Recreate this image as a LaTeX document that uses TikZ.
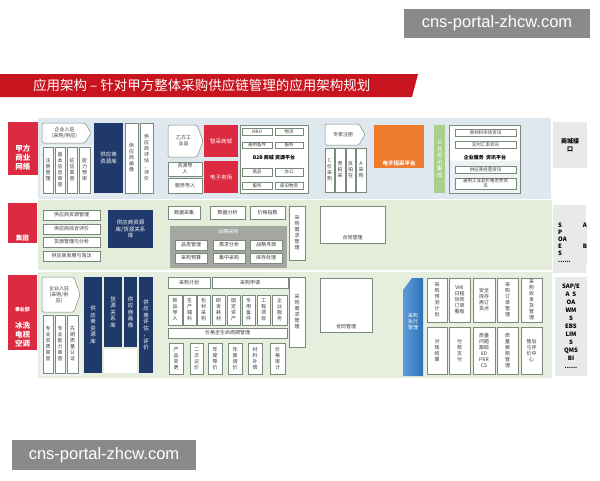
\documentclass[tikz,border=0pt]{standalone}
\usepackage{fontspec}
\setmainfont{Noto Sans CJK SC}
\newfontfamily\wmfont{Liberation Sans}
\definecolor{titlered}{HTML}{C8141E}
\definecolor{labred}{HTML}{DC2A40}
\definecolor{navyc}{HTML}{1F3A6A}
\definecolor{orangec}{HTML}{EF7B2E}
\definecolor{greenc}{HTML}{A8CF8C}
\definecolor{bandblue}{HTML}{DFE7EF}
\definecolor{bandgreen}{HTML}{E4ECDA}
\definecolor{bandgreenb}{HTML}{E6EEDD}
\definecolor{panelc}{HTML}{EEF2F5}
\definecolor{boxc}{HTML}{7A8A7A}
\definecolor{txtc}{HTML}{3A3A3A}
\definecolor{grayp}{HTML}{A4A79F}
\definecolor{rgray}{HTML}{E9E9E9}
\definecolor{wmgray}{HTML}{8A8A8A}
\definecolor{bluea}{HTML}{5C9BD8}
\definecolor{blueb}{HTML}{2E73B8}
\newcommand\mybx[7]{\node[#2, minimum width={(#5-#3)*1pt}, minimum height={(#6-#4)*1pt}] (#1) at ({(#3+#5)/2},{(#4+#6)/2}) {#7};}
\newcommand\mypent[6]{\draw[pentst] (#2,#3) -- ({#4-6},#3) -- (#4,{(#3+#5)/2}) -- ({#4-6},#5) -- (#2,#5) -- cycle;
  \node[ptxt] (#1) at ({(#2+#4)/2-2},{(#3+#5)/2}) {#6};}
\begin{document}
\begin{tikzpicture}[x=1pt,y=-1pt,
  box/.style={draw=boxc, fill=white, line width=0.5pt, text=txtc, font=\fontsize{5}{6}\selectfont, align=center, inner sep=0pt},
  sbox/.style={box, font=\fontsize{4.5}{5}\selectfont},
  ptxt/.style={text=txtc, font=\fontsize{5}{6}\selectfont, align=center, inner sep=0pt},
  pentst/.style={draw=boxc, fill=white, line width=0.5pt, rounded corners=1.5pt},
  redlab/.style={fill=labred, draw=none, inner sep=0pt},
  labtxt/.style={text=white, font=\bfseries\fontsize{7.5}{9}\selectfont, align=center, inner sep=0pt},
  redbox/.style={fill=labred, draw=none, text=white, font=\fontsize{5.5}{6.5}\selectfont, align=center, inner sep=0pt},
  navy/.style={fill=navyc, draw=none, text=white, font=\fontsize{5.5}{6.5}\selectfont, align=center, inner sep=0pt},
  wpanel/.style={fill=white, draw=boxc, line width=0.4pt, inner sep=0pt},
  ptitle/.style={text=black, font=\bfseries\fontsize{5}{6}\selectfont, inner sep=0pt},
  rbox/.style={fill=rgray, draw=none, text=black, font=\bfseries\fontsize{6}{8}\selectfont, align=center, inner sep=0pt},
  wm/.style={fill=wmgray, draw=none, text=white, font=\wmfont\fontsize{16.5}{17}\selectfont, inner sep=0pt}]
\useasboundingbox (0,0) rectangle (600,480);
\fill[white] (0,0) rectangle (600,480);
% watermarks
\mybx{wm1}{wm}{404}{9}{590}{38}{cns-portal-zhcw.com}
\mybx{wm2}{wm}{12}{440}{196}{470}{cns-portal-zhcw.com}
% title
\fill[titlered] (0,74) -- (418,74) -- (412,97) -- (0,97) -- cycle;
\node[text=white, font=\fontsize{13.5}{14}\selectfont, anchor=west, inner sep=0pt] (title) at (33,85.5) {应用架构 – 针对甲方整体采购供应链管理的应用架构规划};

% ===== top band =====
\fill[bandblue] (38,118) rectangle (551,199);
\mybx{tl}{redlab}{8}{122}{38}{175}{}
\node[labtxt] (tlt) at (23,158) {甲方\\商业\\网络};
\fill[panelc] (40,145) rectangle (93,196);
\mypent{tp1}{42}{123}{91}{143}{企业入驻\\(采购/供应)}
\mybx{tv1}{box}{43}{147}{53}{193}{注\\册\\管\\理}
\mybx{tv2}{box}{55}{147}{65}{193}{基\\本\\信\\息\\审\\查}
\mybx{tv3}{box}{67}{147}{77}{193}{征\\信\\审\\查}
\mybx{tv4}{box}{79}{147}{90}{193}{能\\力\\预\\审}
\mybx{tn1}{navy}{94}{123}{123}{193}{供应商\\资源库}
\mybx{tv5}{box}{125}{123}{138}{193}{供\\应\\商\\画\\像}
\mybx{tv6}{box}{140}{123}{153}{193}{供\\应\\商\\评\\估\\，\\评\\价}
\mypent{tp2}{168}{125}{203}{157}{乙方工\\业品}
\mybx{tb1}{box}{168}{162}{202}{176}{资源导\\入}
\mybx{tb2}{box}{168}{178}{202}{193}{服务导入}
\mybx{tr1}{redbox}{204}{125}{238}{157}{智采商城}
\mybx{tr2}{redbox}{204}{161}{238}{193}{电子卖场}
\mybx{tw1}{wpanel}{240}{125}{308}{193}{}
\mybx{tw1a}{sbox}{242}{128}{272}{135}{MRO}
\mybx{tw1b}{sbox}{275}{128}{303}{135}{物流}
\mybx{tw1c}{sbox}{242}{142}{272}{148}{通用备件}
\mybx{tw1d}{sbox}{275}{142}{303}{148}{服务}
\node[ptitle] (tw1t) at (274,158) {B2B 商城 资源平台};
\mybx{tw1e}{sbox}{242}{168}{272}{176}{商品}
\mybx{tw1f}{sbox}{275}{168}{303}{176}{办公}
\mybx{tw1g}{sbox}{242}{182}{272}{189}{服务}
\mybx{tw1h}{sbox}{275}{182}{303}{189}{废旧物资}
\mypent{tp3}{325}{124}{365}{145}{专家注册}
\mybx{tc1}{box}{325}{148}{334}{192}{C\\价\\采\\购}
\mybx{tc2}{box}{335}{148}{345}{192}{竞\\拍\\采}
\mybx{tc3}{box}{346}{148}{355}{192}{反\\拍\\在}
\mybx{tc4}{box}{356}{148}{366}{192}{A\\采\\购}
\mybx{tor}{fill=orangec, inner sep=0pt}{374}{125}{424}{168}{}
\node[text=white, font=\bfseries\fontsize{5.5}{6}\selectfont, inner sep=0pt] (tort) at (399,163) {电子招采平台};
\mybx{tg}{fill=greenc, text=white, font=\fontsize{5.5}{6.5}\selectfont, align=center, inner sep=0pt}{434}{125}{445}{193}{公\\共\\资\\讯\\集\\成}
\mybx{tw2}{wpanel}{449}{125}{520}{193}{}
\fill[panelc] (449.5,161) rectangle (519.5,192.5);
\mybx{tw2a}{sbox}{455}{129}{516}{136}{原材料市场资讯}
\mybx{tw2b}{sbox}{455}{141}{516}{148}{实时汇率资讯}
\node[ptitle] (tw2t) at (485,158) {企业服务\ \ 资讯平台};
\mybx{tw2c}{sbox}{455}{166}{516}{173}{供应商经营资讯}
\mybx{tw2d}{sbox}{455}{178}{516}{189}{通用工业品价格走势资\\讯}
\mybx{tri}{rbox}{553}{122}{587}{168}{商城接\\口}

% ===== middle band =====
\fill[bandgreen] (38,200) rectangle (552,270);
\mybx{ml}{redlab}{8}{203}{37}{243}{}
\node[labtxt, font=\bfseries\fontsize{6.5}{7}\selectfont] (mlt) at (22.5,238) {集团};
\mybx{ma1}{box}{43}{210}{100}{220}{供应商资源管理}
\mybx{ma2}{box}{43}{224}{100}{234}{供应商综合评价}
\mybx{ma3}{box}{43}{237}{100}{247}{货源管理与分析}
\mybx{ma4}{box}{43}{251}{100}{261}{供应商发展与淘汰}
\mybx{mn1}{navy}{108}{210}{153}{248}{供应商资源\\库/货源关系\\库}
\mybx{md1}{box}{168}{206}{200}{219}{数据采集}
\mybx{md2}{box}{210}{206}{245}{219}{数据分析}
\mybx{md3}{box}{250}{206}{285}{219}{价格指数}
\mybx{mg}{fill=grayp, inner sep=0pt}{170}{226}{287}{268}{}
\node[text=white, font=\fontsize{5}{6}\selectfont, inner sep=0pt] (mgt) at (228.5,232) {战略采购};
\mybx{mg1}{box}{175}{240}{207}{250}{品类管理}
\mybx{mg2}{box}{213}{240}{245}{250}{需求分析}
\mybx{mg3}{box}{250}{240}{282}{250}{战略寻源}
\mybx{mg4}{box}{175}{253}{207}{263}{采购预算}
\mybx{mg5}{box}{213}{253}{245}{263}{集中采购}
\mybx{mg6}{box}{250}{253}{282}{263}{库存处理}
\mybx{mq}{box}{289}{206}{305}{260}{采\\购\\需\\求\\管\\理}
\mybx{mw}{wpanel}{320}{206}{385}{243}{}
\node[ptxt] (mwt) at (352.5,238) {合同管理};
\node[rbox, minimum width=33pt, minimum height=68pt] (mri) at (569.5,239) {};
\node[rbox, anchor=north west] (mrit) at (558,222) {\begin{tabular}{@{}l@{\hspace{12pt}}l@{}}S&A\\[-1pt]P&\\[-1pt]OA&\\[-1pt]E&B\\[-1pt]S&\\[-1pt]......&\end{tabular}};

% ===== bottom band =====
\fill[bandgreenb] (38,272) rectangle (552,378);
\mybx{bl}{redlab}{8}{275}{37}{350}{}
\node[labtxt, font=\bfseries\fontsize{5}{6}\selectfont] (blt1) at (22.5,310) {事业部};
\node[labtxt] (blt2) at (22.5,335) {冰洗\\电视\\空调};
\mypent{bp1}{42}{277}{80}{312}{企业入驻\\(采购/供\\应)}
\fill[panelc] (40,314) rectangle (82,376);
\mybx{bv1}{box}{43}{315}{53}{373}{专\\业\\资\\质\\审\\查}
\mybx{bv2}{box}{55}{315}{65}{373}{专\\业\\能\\力\\审\\查}
\mybx{bv3}{box}{67}{315}{78}{373}{先\\期\\质\\量\\认\\证}
\mybx{bn1}{navy}{84}{277}{102}{373}{供\\应\\商\\资\\源\\库}
\mybx{bn2}{navy}{104}{277}{122}{347}{货\\源\\关\\系\\库}
\mybx{bn3}{navy}{124}{277}{137}{347}{供\\应\\商\\画\\像}
\mybx{bnw}{fill=white, inner sep=0pt}{104}{349}{137}{373}{}
\mybx{bn4}{navy}{139}{277}{153}{373}{供\\应\\商\\评\\估\\，\\评\\价}
\mybx{bj1}{box}{168}{277}{210}{288}{采购计划}
\mybx{bj2}{box}{212}{277}{288}{288}{采购申请}
\mybx{bk1}{box}{168}{295}{182}{325}{新\\品\\导\\入}
\mybx{bk2}{box}{183}{295}{196}{325}{生\\产\\辅\\料}
\mybx{bk3}{box}{197}{295}{210}{325}{包\\材\\采\\购}
\mybx{bk4}{box}{212}{295}{225}{325}{研\\发\\耗\\材}
\mybx{bk5}{box}{227}{295}{240}{325}{固\\定\\资\\产}
\mybx{bk6}{box}{242}{295}{255}{325}{专\\用\\备\\件}
\mybx{bk7}{box}{257}{295}{270}{325}{工\\程\\项\\目}
\mybx{bk8}{box}{272}{295}{287}{325}{企\\业\\服\\务}
\mybx{bpl}{box}{168}{328}{287}{338}{价格全生命周期管理}
\mybx{bm1}{box}{169}{343}{183}{374}{产\\品\\变\\更}
\mybx{bm2}{box}{190}{343}{203}{374}{二\\次\\议\\价}
\mybx{bm3}{box}{208}{343}{222}{374}{年\\度\\降\\价}
\mybx{bm4}{box}{228}{343}{242}{374}{年\\度\\调\\价}
\mybx{bm5}{box}{248}{343}{262}{374}{材\\料\\补\\偿}
\mybx{bm6}{box}{270}{343}{285}{374}{价\\格\\审\\计}
\mybx{bq}{box}{289}{277}{305}{347}{采\\购\\需\\求\\管\\理}
\mybx{bw}{wpanel}{320}{278}{372}{332}{}
\node[ptxt] (bwt) at (346,327) {合同管理};
\shade[left color=bluea, right color=blueb] (403,290) -- (412,278) -- (423,278) -- (423,376) -- (403,376) -- cycle;
\node[text=white, font=\fontsize{5}{6}\selectfont, align=center, inner sep=0pt] (bex) at (413,322) {采购\\执行\\管理};
\mybx{be1}{box}{427}{278}{447}{322}{采\\购\\预\\测\\计\\划}
\mybx{be2}{box}{449}{278}{470}{322}{VMI\\日程\\协同\\订单\\看板}
\mybx{be3}{box}{473}{278}{495}{322}{安全\\库存\\再订\\货点}
\mybx{be4}{box}{497}{278}{518}{322}{采\\购\\订\\单\\管\\理}
\mybx{be5}{box}{521}{278}{542}{322}{采\\购\\收\\发\\货\\管\\理}
\mybx{bf1}{box}{427}{327}{447}{374}{对\\账\\结\\算}
\mybx{bf2}{box}{449}{327}{470}{374}{付\\款\\支\\付}
\mybx{bf3}{box}{473}{327}{495}{374}{质量\\问题\\跟踪\\8D\\PRR\\CS}
\mybx{bf4}{box}{497}{327}{518}{374}{质\\量\\索\\赔\\管\\理}
\mybx{bf5}{box}{521}{327}{542}{374}{售后\\与评\\价中\\心}
\mybx{bri}{rbox}{555}{277}{587}{376}{SAP/E\\A\ \ S\\OA\\WM\\S\\EBS\\LIM\\S\\QMS\\BI\\......}
\end{tikzpicture}
\end{document}
